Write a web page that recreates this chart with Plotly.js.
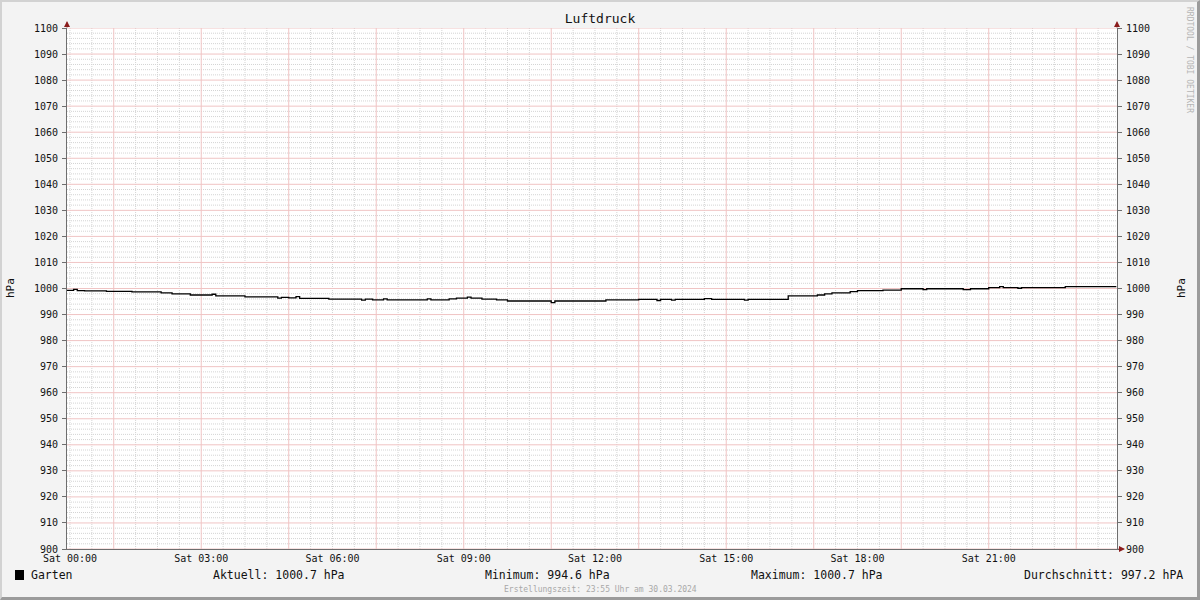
<!DOCTYPE html>
<html><head><meta charset="utf-8">
<script src="https://cdn.plot.ly/plotly-3.0.1.min.js"></script>
<style>
html,body{margin:0;padding:0;background:#f3f3f3;}
#frame{position:relative;width:1200px;height:600px;box-sizing:border-box;border-top:2px solid #d2d2d2;border-left:2px solid #d2d2d2;border-bottom:3px solid #9b9b9b;border-right:3px solid #9b9b9b;background:#f3f3f3;}
#chart{position:absolute;left:-2px;top:-2px;width:1200px;height:600px;}
</style></head>
<body><div id="frame"><div id="chart"></div></div>
<script>
// ---- data ----
const chartTitle = "Luftdruck";
const seriesName = "Garten";
const unit = "hPa";
const times = [
 "2024-03-29 23:55","2024-03-30 00:05","2024-03-30 00:10","2024-03-30 00:20","2024-03-30 00:50",
 "2024-03-30 01:25","2024-03-30 02:05","2024-03-30 02:20","2024-03-30 02:45","2024-03-30 03:15",
 "2024-03-30 03:20","2024-03-30 04:00","2024-03-30 04:45","2024-03-30 04:50","2024-03-30 05:00",
 "2024-03-30 05:10","2024-03-30 05:15","2024-03-30 05:55","2024-03-30 06:40","2024-03-30 06:45",
 "2024-03-30 06:55","2024-03-30 07:10","2024-03-30 07:15","2024-03-30 08:10","2024-03-30 08:15",
 "2024-03-30 08:40","2024-03-30 08:50","2024-03-30 09:05","2024-03-30 09:10","2024-03-30 09:25",
 "2024-03-30 09:45","2024-03-30 10:00","2024-03-30 11:00","2024-03-30 11:05","2024-03-30 12:15",
 "2024-03-30 13:00","2024-03-30 13:25","2024-03-30 13:30","2024-03-30 13:45","2024-03-30 13:50",
 "2024-03-30 14:30","2024-03-30 14:40","2024-03-30 15:25","2024-03-30 15:30","2024-03-30 16:25",
 "2024-03-30 17:05","2024-03-30 17:15","2024-03-30 17:25","2024-03-30 17:50","2024-03-30 18:00",
 "2024-03-30 18:35","2024-03-30 19:00","2024-03-30 19:30","2024-03-30 19:35","2024-03-30 20:25",
 "2024-03-30 20:35","2024-03-30 21:00","2024-03-30 21:15","2024-03-30 21:20","2024-03-30 21:40",
 "2024-03-30 21:45","2024-03-30 22:45","2024-03-30 23:55"
];
const pressure = [
 999.3,999.7,999.2,999.1,998.9,
 998.7,998.3,997.9,997.5,997.8,
 997.2,996.8,996.3,996.6,996.4,
 996.9,996.2,995.9,995.5,995.9,
 995.6,996.0,995.6,996.0,995.6,
 996.0,996.3,996.7,996.3,995.9,
 995.6,995.2,994.6,995.2,995.6,
 995.8,995.4,995.8,995.5,995.8,
 996.1,995.8,995.5,995.8,997.2,
 997.5,997.9,998.3,998.8,999.2,
 999.4,999.9,999.6,999.9,999.6,
 999.9,1000.3,1000.7,1000.3,1000.1,
 1000.3,1000.7,1000.7
];
const xRange = ["2024-03-29 23:55:55","2024-03-30 23:55:55"];
const yRange = [900, 1100];
const statLabels = ["Aktuell: 1000.7 hPa","Minimum: 994.6 hPa","Maximum: 1000.7 hPa","Durchschnitt: 997.2 hPA"];
const footerText = "Erstellungszeit: 23:55 Uhr am 30.03.2024";
const watermark = "RRDTOOL / TOBI OETIKER";

// ---- layout helpers (pixel -> paper) ----
const L=67, R=1117, T=28, B=549;
const px = x => (x-L)/(R-L);
const py = y => (B-y)/(B-T);
const MONO = "DejaVu Sans Mono";
const redGrid = "#f0c4c4";
const grayGrid = "#d4d4d4";
const axisCol = "#6e6e6e";

// grid positions: minor every 30 min / 2 hPa, skipping where the major (red) grid sits
const pad2 = n => String(n).padStart(2,'0');
const minorX = [], majorX = [];
for (let m = 0; m < 24*60; m += 30) {
  const s = "2024-03-30 " + pad2(Math.floor(m/60)) + ":" + pad2(m%60);
  if (m % 60 === 0 && (m/60) % 2 === 1) majorX.push(s); else minorX.push(s);
}
const minorY = [], majorY = [];
for (let v = 900; v <= 1100; v += 2) (v % 10 === 0 ? majorY : minorY).push(v);

const gridShapes = [];
minorX.forEach(t => gridShapes.push({type:'line', layer:'below', xref:'x', yref:'paper', x0:t, x1:t, y0:0, y1:1,
  line:{color:grayGrid, width:1, dash:'1px,1px'}}));
minorY.forEach(v => gridShapes.push({type:'line', layer:'below', xref:'paper', yref:'y', x0:0, x1:1, y0:v, y1:v,
  line:{color:grayGrid, width:1, dash:'1px,1px'}}));
majorX.forEach(t => gridShapes.push({type:'line', layer:'below', xref:'x', yref:'paper', x0:t, x1:t, y0:0, y1:1,
  line:{color:redGrid, width:1}}));
majorY.forEach(v => gridShapes.push({type:'line', layer:'below', xref:'paper', yref:'y', x0:0, x1:1, y0:v, y1:v,
  line:{color:redGrid, width:1}}));

const traces = [
 {x:times, y:pressure, type:'scatter', mode:'lines', line:{shape:'hv', color:'rgba(0,0,0,0)', width:0},
  xaxis:'x', yaxis:'y2', showlegend:false, hoverinfo:'skip'},
 {x:times, y:pressure, type:'scatter', mode:'lines', line:{shape:'hv', color:'#000', width:1.3},
  xaxis:'x', yaxis:'y', showlegend:false, hoverinfo:'skip'}
];

const tickFont = {family:MONO, size:10, color:'#111'};
const legendFont = {family:MONO, size:11.5, color:'#111'};
const ann = (text, x, y, xa, font, extra) => Object.assign({text, x:px(x), y:py(y), xref:'paper', yref:'paper',
  showarrow:false, xanchor:xa, yanchor:'middle', font}, extra||{});
const arrow = (x, y, ax, ay) => ({text:'', x:px(x), y:py(y), xref:'paper', yref:'paper', showarrow:true,
  ax, ay, arrowhead:2, arrowsize:1.2, arrowwidth:1, arrowcolor:'#8b1c1c'});

const annotations = [
 ann(unit, 10, 288, 'center', {family:MONO, size:11, color:'#111'}, {textangle:-90}),
 ann(unit, 1181, 288, 'center', {family:MONO, size:11, color:'#111'}, {textangle:-90}),
 ann(watermark, 1190, 60, 'center', {family:MONO, size:8, color:'#b5b5b5'}, {textangle:90}),
 ann(seriesName, 29, 575, 'left', legendFont),
 ann(statLabels[0], 211, 575, 'left', legendFont),
 ann(statLabels[1], 483, 575, 'left', legendFont),
 ann(statLabels[2], 749, 575, 'left', legendFont),
 ann(statLabels[3], 1185, 575, 'right', legendFont),
 ann(footerText, 600, 589, 'center', {family:MONO, size:8, color:'#a8a8a8'}),
 arrow(L, 21, 0, 8),
 arrow(R, 21, 0, 8),
 arrow(1125, B, -8, 0)
];

const shapes = gridShapes.concat([
 {type:'rect', xref:'paper', yref:'paper', x0:px(15), x1:px(24), y0:py(580), y1:py(570),
  fillcolor:'#000', line:{width:0}}
]);

const layout = {
 width:1200, height:600,
 margin:{l:L, r:1200-R, t:T, b:600-B, pad:0},
 paper_bgcolor:'rgba(0,0,0,0)', plot_bgcolor:'#fff',
 title:{text:chartTitle, x:0.5, xref:'container', y:1-18/600, yref:'container', yanchor:'middle', xanchor:'center',
  font:{family:MONO, size:13, color:'#111'}},
 hovermode:false, showlegend:false,
 xaxis:{type:'date', range:xRange, tickformat:'%a %H:%M', tick0:'2024-03-30 00:00', dtick:3*3600000,
  tickmode:'linear', ticks:'', showgrid:false, showline:true, linecolor:axisCol, linewidth:1,
  zeroline:false, tickfont:tickFont, automargin:false, fixedrange:true},
 yaxis:{range:yRange, tickmode:'linear', tick0:900, dtick:10, ticks:'outside', ticklen:4, tickcolor:axisCol,
  showline:true, linecolor:axisCol, linewidth:1, zeroline:false, showgrid:false,
  tickfont:tickFont, automargin:false, fixedrange:true, ticklabelstandoff:2},
 yaxis2:{range:yRange, overlaying:'y', anchor:'x', side:'right', tickmode:'linear', tick0:900, dtick:10,
  ticks:'outside', ticklen:4, tickcolor:axisCol, showline:true, linecolor:axisCol, linewidth:1,
  zeroline:false, showgrid:false, tickfont:tickFont,
  automargin:false, fixedrange:true, ticklabelstandoff:2},
 annotations:annotations, shapes:shapes
};

Plotly.newPlot('chart', traces, layout, {displayModeBar:false, staticPlot:true});
</script></body></html>
